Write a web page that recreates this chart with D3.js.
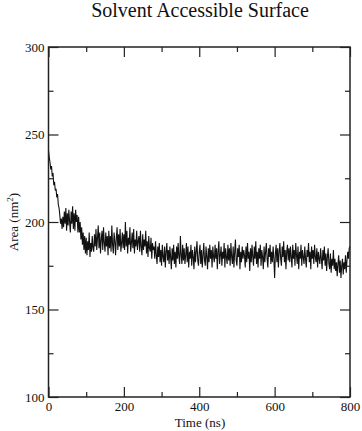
<!DOCTYPE html>
<html><head><meta charset="utf-8">
<script src="https://cdn.jsdelivr.net/npm/d3@7"></script>
<style>body{margin:0;background:#fff}svg{display:block}svg text{font-family:"Liberation Serif","Times New Roman","DejaVu Serif",serif !important;fill:#111}</style>
</head><body>
<svg id="c" width="362" height="431"></svg>
<script>
const title = "Solvent Accessible Surface";
const xLabel = "Time (ns)";
const yLabel = "Area (nm";
const xTicks = [0, 200, 400, 600, 800];
const xMinorTicks = [100, 300, 500, 700];
const yTicks = [100, 150, 200, 250, 300];
const yMinorTicks = [125, 175, 225, 275];
const timeStep = 2; // ns between samples
const area = [
241,237,234,230,232,226,228,221,223,218,219,214,216,210,208,204,199,202,196,203,
197,206,199,208,195,205,198,207,200,194,206,199,209,196,205,195,207,200,204,194,
203,194,200,190,197,187,194,184,192,182,191,181,189,184,194,180,188,183,192,185,
183,193,186,196,184,191,198,185,194,182,190,195,184,197,188,183,194,186,192,181,
195,185,192,183,198,187,182,194,189,181,191,197,184,193,186,196,183,188,194,185,
193,184,200,186,195,182,191,187,197,183,188,194,185,196,182,190,186,195,184,189,
192,183,195,186,181,193,184,190,186,195,182,189,180,192,185,183,191,179,188,184,
186,179,189,181,176,186,180,188,177,184,175,187,180,177,186,174,183,188,178,184,
176,186,180,173,185,178,187,176,183,174,186,179,188,180,176,192,181,176,187,178,
185,176,181,188,177,186,174,183,179,187,175,184,180,173,186,177,183,189,178,175,
183,187,176,184,174,181,188,178,175,186,180,173,185,177,187,179,184,174,186,180,
177,187,179,185,173,183,189,176,181,186,175,183,179,188,174,185,180,176,187,178,
185,175,188,180,176,186,174,183,190,178,175,185,180,187,173,183,177,186,179,184,
181,174,186,177,188,179,183,172,185,177,187,180,175,186,179,189,176,183,174,185,
179,187,175,184,180,173,186,177,183,188,179,174,185,180,187,176,183,177,186,179,
168,182,187,177,185,174,183,188,179,175,186,180,189,177,184,173,183,187,178,185,
177,186,180,174,187,179,184,175,188,181,176,186,173,183,179,187,175,184,180,176,
186,179,174,184,180,188,177,183,173,186,179,184,176,187,180,177,185,174,183,179,
176,185,179,173,184,178,186,175,182,172,180,185,176,173,182,171,179,175,184,173,
179,172,177,169,176,181,171,178,168,175,179,170,177,173,181,171,178,183,179,185,
186
];

const svg = d3.select("#c");
const L = 48.5, R = 350, T = 47, B = 397;
const x = d3.scaleLinear().domain([0, 800]).range([L, R]);
const y = d3.scaleLinear().domain([100, 300]).range([B, T]);

svg.append("path")
  .datum(area)
  .attr("fill", "none")
  .attr("stroke", "#111")
  .attr("stroke-width", 1.1)
  .attr("d", d3.line().x((d, i) => x(i * timeStep)).y(d => y(d)));

svg.append("rect").attr("x", L).attr("y", T).attr("width", R - L).attr("height", B - T)
  .attr("fill", "none").attr("stroke", "#222").attr("stroke-width", 1.5);

const major = 10, minor = 5;
const fmt = d3.format("d");
const gB = svg.append("g").attr("transform", `translate(0,${B})`)
  .call(d3.axisBottom(x).tickValues(xTicks).tickSize(-major).tickPadding(5).tickFormat(fmt));
const gBm = svg.append("g").attr("transform", `translate(0,${B})`)
  .call(d3.axisBottom(x).tickValues(xMinorTicks).tickSize(-minor).tickFormat(""));
const gT = svg.append("g").attr("transform", `translate(0,${T})`)
  .call(d3.axisTop(x).tickValues(xTicks).tickSize(-major).tickFormat(""));
const gTm = svg.append("g").attr("transform", `translate(0,${T})`)
  .call(d3.axisTop(x).tickValues(xMinorTicks).tickSize(-minor).tickFormat(""));
const gL = svg.append("g").attr("transform", `translate(${L},0)`)
  .call(d3.axisLeft(y).tickValues(yTicks).tickSize(-major).tickPadding(4).tickFormat(fmt));
const gLm = svg.append("g").attr("transform", `translate(${L},0)`)
  .call(d3.axisLeft(y).tickValues(yMinorTicks).tickSize(-minor).tickFormat(""));
const gR = svg.append("g").attr("transform", `translate(${R},0)`)
  .call(d3.axisRight(y).tickValues(yTicks).tickSize(-major).tickFormat(""));
const gRm = svg.append("g").attr("transform", `translate(${R},0)`)
  .call(d3.axisRight(y).tickValues(yMinorTicks).tickSize(-minor).tickFormat(""));

[gB, gBm, gT, gTm, gL, gLm, gR, gRm].forEach(g => {
  g.attr("font-family", null).attr("font-size", null);
  g.select(".domain").remove();
  g.selectAll(".tick line").attr("stroke", "#222").attr("stroke-width", 1.2);
  g.selectAll("text").style("font-size", "13px").attr("fill", "#111");
});

svg.append("text").attr("x", 200).attr("y", 17).attr("text-anchor", "middle")
  .style("font-size", "20px").text(title);
svg.append("text").attr("x", 200).attr("y", 427).attr("text-anchor", "middle")
  .style("font-size", "13px").text(xLabel);
const yl = svg.append("text").attr("transform", `translate(17.5,${(T + B) / 2}) rotate(-90)`)
  .attr("text-anchor", "middle").style("font-size", "13px");
yl.append("tspan").text(yLabel);
yl.append("tspan").attr("dy", -5).style("font-size", "9px").text("2");
yl.append("tspan").attr("dy", 5).text(")");
</script>
</body></html>
